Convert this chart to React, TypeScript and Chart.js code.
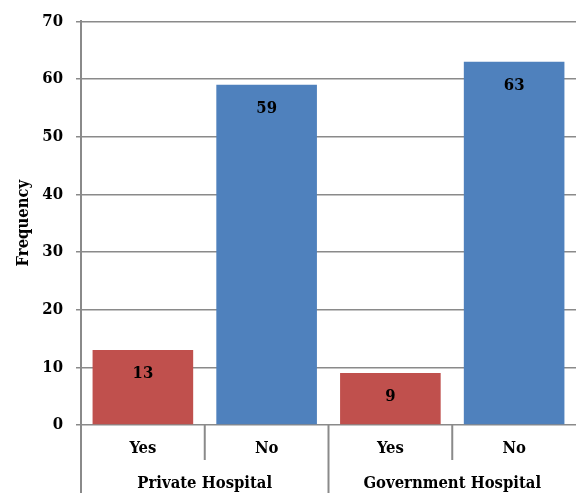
import React, { useEffect, useRef } from "react";
import { Chart, registerables } from "chart.js";

Chart.register(...registerables);

// Responses per hospital type
const answers = ["Yes", "No", "Yes", "No"];
const hospitals = ["Private Hospital", "Government Hospital"];
const frequency = [13, 59, 9, 63];
const barColors = ["#C0504D", "#4F81BD", "#C0504D", "#4F81BD"];
const yTicks = { min: 0, max: 70, step: 10 };

const FONT = "'DejaVu Serif Condensed', 'DejaVu Serif', serif";
const SIZE = 16.5;
const LINE = "#8a8a8a";

// Bar value labels, drawn just under each bar's top edge
const valueLabels = {
  id: "valueLabels",
  afterDatasetsDraw(chart: any) {
    const ctx = chart.ctx;
    const meta = chart.getDatasetMeta(0);
    ctx.save();
    ctx.font = `bold ${SIZE}px ${FONT}`;
    ctx.fillStyle = "#000";
    ctx.textAlign = "center";
    ctx.textBaseline = "middle";
    meta.data.forEach((bar: any, i: number) => {
      ctx.fillText(String(frequency[i]), bar.x, bar.y + 24);
    });
    ctx.restore();
  },
};

// Two-level category axis: answers on the first row, hospital groups below
const groupedAxis = {
  id: "groupedAxis",
  afterDraw(chart: any) {
    const ctx = chart.ctx;
    const x = chart.scales.x;
    const area = chart.chartArea;
    const n = answers.length;
    const centers = answers.map((_, i) => x.getPixelForValue(i));
    const half = n > 1 ? (centers[1] - centers[0]) / 2 : x.width / 2;
    const bounds: number[] = [];
    for (let i = 0; i <= n; i++) {
      bounds.push(i < n ? centers[i] - half : centers[n - 1] + half);
    }
    const perGroup = n / hospitals.length;
    const bottom = chart.height;

    ctx.save();
    ctx.strokeStyle = LINE;
    ctx.lineWidth = 2;
    // separators (the outer right edge has none)
    for (let i = 0; i < n; i++) {
      const bx = bounds[i];
      const isGroup = i % perGroup === 0;
      ctx.beginPath();
      ctx.moveTo(bx, area.bottom);
      ctx.lineTo(bx, isGroup ? bottom : area.bottom + 35);
      ctx.stroke();
    }

    ctx.fillStyle = "#000";
    ctx.textAlign = "center";
    ctx.textBaseline = "middle";
    ctx.font = `bold ${SIZE}px ${FONT}`;
    centers.forEach((cx, i) => {
      ctx.fillText(answers[i], cx, area.bottom + 24);
    });
    hospitals.forEach((h, g) => {
      const gx = (bounds[g * perGroup] + bounds[(g + 1) * perGroup]) / 2;
      ctx.fillText(h, gx, area.bottom + 59);
    });
    ctx.restore();
  },
};

export default function App() {
  const canvasRef = useRef<HTMLCanvasElement>(null);

  useEffect(() => {
    if (!canvasRef.current) return;
    const chart = new Chart(canvasRef.current, {
      type: "bar",
      data: {
        labels: answers,
        datasets: [
          {
            data: frequency,
            backgroundColor: barColors,
            borderWidth: 0,
            barPercentage: 0.813,
            categoryPercentage: 1,
          },
        ],
      },
      options: {
        animation: false,
        responsive: true,
        maintainAspectRatio: false,
        layout: { padding: { top: 20, right: -2, bottom: 0, left: 0 } },
        plugins: {
          legend: { display: false },
          tooltip: { enabled: false },
        },
        scales: {
          x: {
            ticks: { display: false },
            grid: { display: false },
            border: { display: false },
            afterFit(scale: any) {
              scale.height = 68;
            },
          },
          y: {
            min: yTicks.min,
            max: yTicks.max,
            ticks: {
              stepSize: yTicks.step,
              padding: 13,
              color: "#000",
              font: { family: FONT, weight: "bold", size: SIZE, lineHeight: 1 },
            },
            grid: {
              color: LINE,
              lineWidth: 1.5,
              tickLength: 5,
            },
            border: { color: LINE, width: 2 },
            title: {
              display: true,
              text: "Frequency",
              color: "#000",
              font: { family: FONT, weight: "bold", size: 16.5 },
              padding: { top: 14, bottom: 0 },
            },
            afterFit(scale: any) {
              scale.width = 81;
            },
          },
        },
      },
      plugins: [valueLabels, groupedAxis],
    });
    return () => chart.destroy();
  }, []);

  return (
    <div style={{ position: "fixed", left: 0, top: 0, width: 576, height: 493, background: "#fff" }}>
      <canvas ref={canvasRef} />
    </div>
  );
}
